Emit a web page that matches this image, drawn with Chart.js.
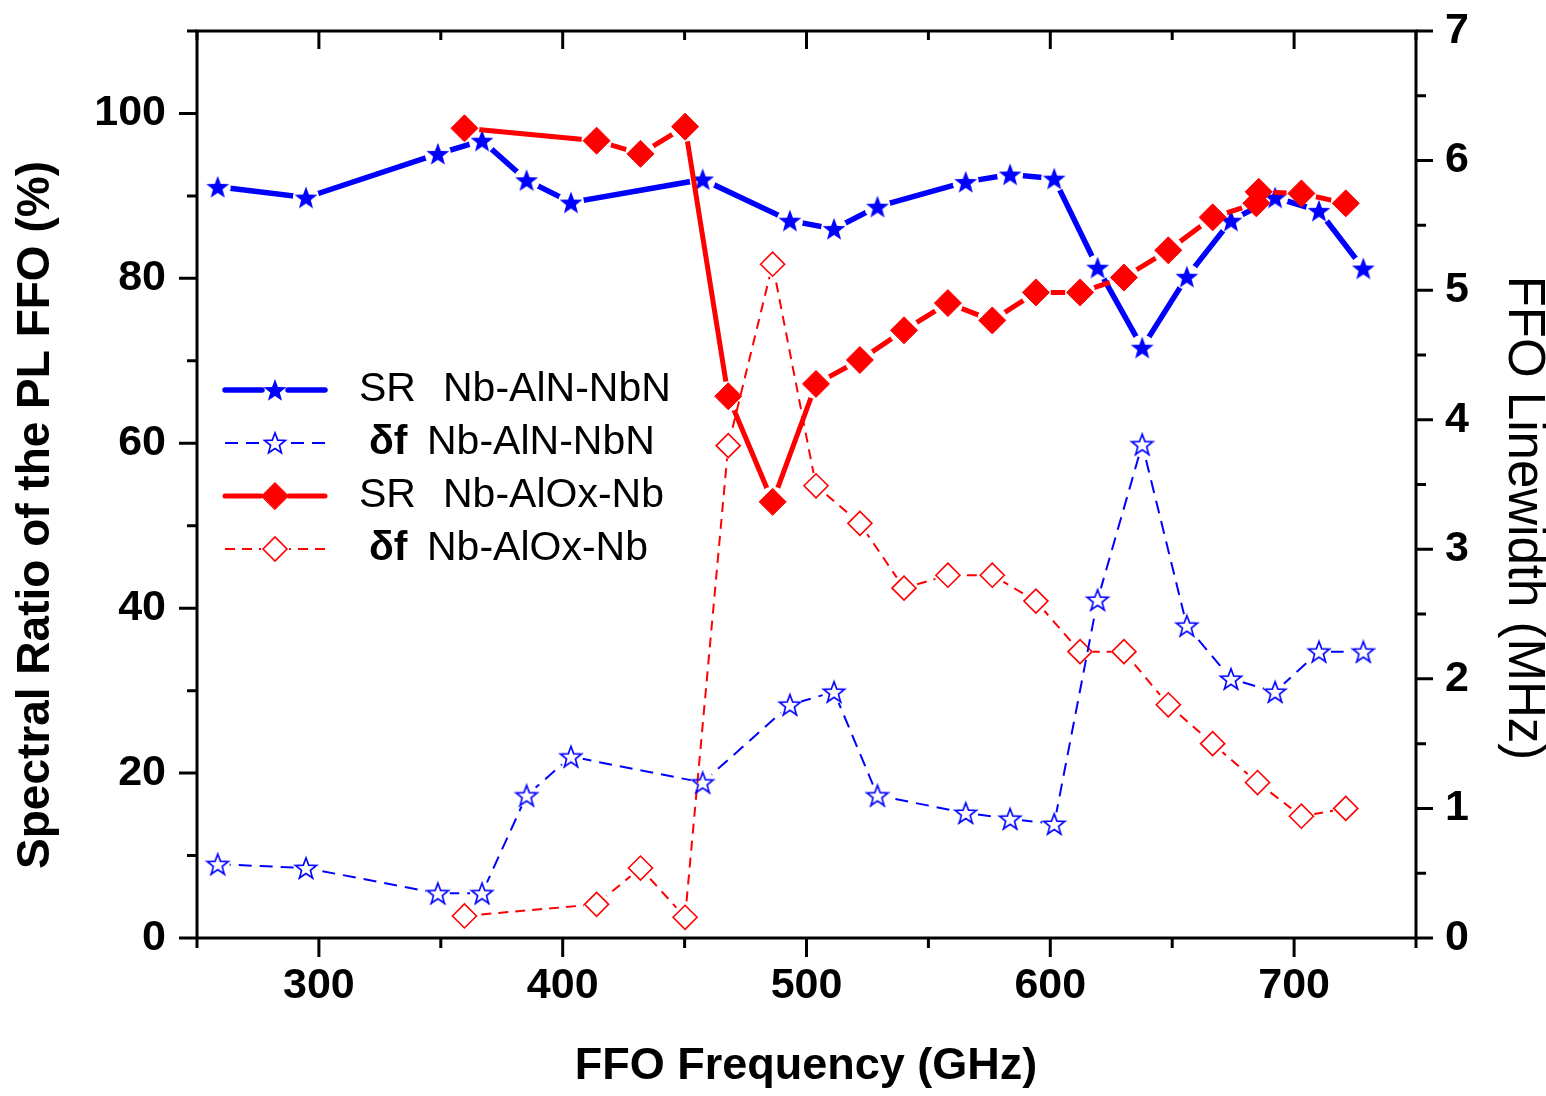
<!DOCTYPE html>
<html><head><meta charset="utf-8">
<script src="https://cdn.jsdelivr.net/npm/chart.js@4/dist/chart.umd.min.js"></script>
<style>html,body{margin:0;padding:0;background:#fff}canvas{display:block}</style>
</head><body>
<canvas id="c" width="1546" height="1096"></canvas>
<script>
// ---------- data ----------
const freqAlN = [258.5, 294.7, 348.8, 366.9, 385.2, 403.4, 457.4, 493.2, 511.3, 529.1, 565.3, 583.5, 601.6, 619.4, 637.7, 656.0, 674.1, 692.2, 710.2, 728.4];
const srAlN   = [91.1, 89.8, 95.1, 96.7, 91.9, 89.2, 92.0, 87.0, 86.0, 88.7, 91.7, 92.6, 92.1, 81.3, 71.6, 80.2, 87.0, 89.8, 88.2, 81.2];
const dfAlN   = [0.57, 0.54, 0.345, 0.345, 1.10, 1.40, 1.20, 1.80, 1.90, 1.10, 0.965, 0.92, 0.88, 2.61, 3.81, 2.41, 2.00, 1.90, 2.21, 2.21];
const freqAlOxSR = [359.7, 413.9, 431.9, 450.2, 467.9, 486.1, 503.9, 521.9, 540.0, 558.0, 576.2, 594.1, 612.2, 630.2, 648.4, 666.6, 684.5, 685.5, 703.0, 721.2];
const srAlOx     = [98.2, 96.7, 95.1, 98.4, 65.7, 52.9, 67.2, 70.1, 73.7, 77.0, 74.9, 78.3, 78.3, 80.1, 83.4, 87.4, 89.1, 90.5, 90.3, 89.1];
const freqAlOxDf = [359.7, 413.9, 431.9, 450.2, 467.9, 486.1, 503.9, 521.9, 540.0, 558.0, 576.2, 594.1, 612.2, 630.2, 648.4, 666.6, 685.0, 703.0, 721.2];
const dfAlOx     = [0.17, 0.26, 0.54, 0.16, 3.80, 5.20, 3.49, 3.20, 2.70, 2.80, 2.80, 2.60, 2.21, 2.21, 1.80, 1.50, 1.20, 0.94, 1.00];

const xTickLabels = [300, 400, 500, 600, 700];
const yLeftTickLabels = [0, 20, 40, 60, 80, 100];
const yRightTickLabels = [0, 1, 2, 3, 4, 5, 6, 7];

const legendPrefix = ['SR', 'δf', 'SR', 'δf'];
const legendNames = ['Nb-AlN-NbN', 'Nb-AlN-NbN', 'Nb-AlOx-Nb', 'Nb-AlOx-Nb'];

const xTitle = 'FFO Frequency (GHz)';
const yTitle = 'Spectral Ratio of the PL FFO (%)';
const y2Title = 'FFO Linewidth (MHz)';

// ---------- marker images ----------
function starCanvas(R, fill, stroke, lw) {
  const s = Math.ceil(2 * R + lw + 4);
  const c = document.createElement('canvas');
  c.width = s; c.height = s;
  const g = c.getContext('2d');
  const cx = s / 2, cy = s / 2 + R * 0.08;
  g.beginPath();
  for (let i = 0; i < 10; i++) {
    const r = i % 2 ? R * 0.42 : R;
    const a = -Math.PI / 2 + i * Math.PI / 5;
    g.lineTo(cx + r * Math.cos(a), cy + r * Math.sin(a));
  }
  g.closePath();
  if (fill) { g.fillStyle = fill; g.fill(); }
  if (stroke) { g.strokeStyle = stroke; g.lineWidth = lw; g.lineJoin = 'miter'; g.stroke(); }
  return c;
}
const BLUE = '#0000ff', RED = '#ff0000';
const starFilled = starCanvas(12, BLUE, null, 0);
const starOpen = starCanvas(11, null, BLUE, 1.6);

const pts = (xs, ys) => xs.map((x, i) => ({ x: x, y: ys[i] }));

// ---------- plugins ----------
const gapPlugin = {
  id: 'gaps',
  beforeDatasetDraw(chart, args) {
    const ds = chart.data.datasets[args.index];
    if (!ds.gap) return;
    const ctx = chart.ctx, g = ds.gap;
    ctx.save();
    ctx.beginPath();
    ctx.rect(0, 0, chart.width, chart.height);
    args.meta.data.forEach(p => { ctx.moveTo(p.x + g, p.y); ctx.arc(p.x, p.y, g, 0, Math.PI * 2); });
    ctx.clip('evenodd');
  },
  afterDatasetDraw(chart, args) {
    const ds = chart.data.datasets[args.index];
    if (!ds.gap) return;
    chart.ctx.restore();
    args.meta.data.forEach(p => p.draw(chart.ctx, chart.chartArea));
  }
};

const framePlugin = {
  id: 'frame',
  afterDraw(chart) {
    const ctx = chart.ctx, a = chart.chartArea, s = chart.scales;
    ctx.save();
    ctx.strokeStyle = '#000';
    ctx.lineWidth = 3;
    ctx.lineCap = 'butt';
    ctx.lineJoin = 'miter';
    ctx.strokeRect(a.left, a.top, a.right - a.left, a.bottom - a.top);
    ctx.beginPath();
    for (let v = 250; v <= 750; v += 50) {
      const px = s.x.getPixelForValue(v);
      const major = v % 100 === 0;
      ctx.moveTo(px, a.bottom); ctx.lineTo(px, a.bottom + (major ? 19 : 10));
      ctx.moveTo(px, a.top); ctx.lineTo(px, a.top + (major ? 18 : 9));
    }
    for (let v = 0; v <= 110; v += 10) {
      const py = s.y.getPixelForValue(v);
      ctx.moveTo(a.left, py); ctx.lineTo(a.left - (v % 20 === 0 ? 18 : 10), py);
    }
    for (let v = 0; v <= 7; v += 0.5) {
      const py = s.y2.getPixelForValue(v);
      ctx.moveTo(a.right, py); ctx.lineTo(a.right + (Number.isInteger(v) ? 17 : 10), py);
    }
    ctx.stroke();

    // titles
    ctx.fillStyle = '#000';
    ctx.textAlign = 'center';
    ctx.textBaseline = 'middle';
    ctx.font = 'bold 45px "Liberation Sans", Arial, sans-serif';
    ctx.fillText(xTitle, 806, 1067);
    ctx.save();
    ctx.translate(36, 515); ctx.rotate(-Math.PI / 2);
    ctx.font = 'bold 46px "Liberation Sans", Arial, sans-serif';
    ctx.fillText(yTitle, 0, 0);
    ctx.restore();
    ctx.save();
    ctx.translate(1523, 518); ctx.rotate(Math.PI / 2);
    ctx.font = '51px "Liberation Sans", Arial, sans-serif';
    ctx.fillText(y2Title, 0, 0);
    ctx.restore();

    // legend
    const legendOrder = [1, 2, 0, 3]; // dataset indices in legend row order
    const rowY = [390, 443, 496, 549];
    const x0 = 225, x1 = 325, xm = 275;
    legendOrder.forEach((di, r) => {
      const ds = chart.data.datasets[di];
      const y = rowY[r];
      const gap = ds.legendGap;
      ctx.save();
      ctx.strokeStyle = ds.borderColor;
      ctx.lineWidth = ds.borderWidth;
      ctx.lineCap = ds.borderDash ? 'butt' : 'round';
      ctx.setLineDash(ds.borderDash || []);
      ctx.beginPath();
      ctx.moveTo(x0, y); ctx.lineTo(xm - gap, y);
      ctx.stroke();
      ctx.beginPath();
      ctx.moveTo(x1, y); ctx.lineTo(xm + gap, y);
      ctx.stroke();
      ctx.setLineDash([]);
      if (ds.pointStyle instanceof HTMLCanvasElement) {
        ctx.drawImage(ds.pointStyle, xm - ds.pointStyle.width / 2, y - ds.pointStyle.height / 2);
      } else {
        const rr = ds.pointRadius;
        ctx.beginPath();
        ctx.moveTo(xm - rr, y); ctx.lineTo(xm, y - rr); ctx.lineTo(xm + rr, y); ctx.lineTo(xm, y + rr); ctx.closePath();
        ctx.fillStyle = ds.pointBackgroundColor;
        ctx.fill();
        ctx.strokeStyle = ds.pointBorderColor;
        ctx.lineWidth = ds.pointBorderWidth;
        ctx.stroke();
      }
      ctx.restore();
      ctx.fillStyle = '#000';
      ctx.textAlign = 'left';
      ctx.textBaseline = 'middle';
      if (legendPrefix[r] === 'SR') {
        ctx.font = '41px "Liberation Sans", Arial, sans-serif';
        ctx.fillText(legendPrefix[r], 359, y);
        ctx.fillText(legendNames[r], 443, y);
      } else {
        ctx.font = 'bold 41px "Liberation Sans", Arial, sans-serif';
        ctx.fillText(legendPrefix[r], 369, y);
        ctx.font = '41px "Liberation Sans", Arial, sans-serif';
        ctx.fillText(legendNames[r], 427, y);
      }
    });
    ctx.restore();
  }
};

const tickFont = { family: '"Liberation Sans", Arial, sans-serif', size: 43, weight: 'bold' };
const noPad = s => { s.paddingTop = 0; s.paddingBottom = 0; s.paddingLeft = 0; s.paddingRight = 0; };

new Chart(document.getElementById('c'), {
  type: 'line',
  data: {
    datasets: [
      { // 0: SR AlOx
        label: 'SR Nb-AlOx-Nb', data: pts(freqAlOxSR, srAlOx), yAxisID: 'y', order: 0,
        borderColor: RED, borderWidth: 5, tension: 0, gap: 15, legendGap: 14,
        pointStyle: 'rectRot', pointRadius: 13.5, pointBackgroundColor: RED, pointBorderColor: RED, pointBorderWidth: 1
      },
      { // 1: SR AlN
        label: 'SR Nb-AlN-NbN', data: pts(freqAlN, srAlN), yAxisID: 'y', order: 1,
        borderColor: BLUE, borderWidth: 5.5, tension: 0, gap: 13, legendGap: 13,
        pointStyle: starFilled, pointRadius: 12, pointBackgroundColor: BLUE, pointBorderColor: BLUE, pointBorderWidth: 0
      },
      { // 2: df AlN
        label: 'δf Nb-AlN-NbN', data: pts(freqAlN, dfAlN), yAxisID: 'y2', order: 2,
        borderColor: BLUE, borderWidth: 2, borderDash: [13, 8], tension: 0, gap: 12, legendGap: 14,
        pointStyle: starOpen, pointRadius: 11, pointBackgroundColor: 'rgba(0,0,0,0)', pointBorderColor: BLUE, pointBorderWidth: 1.6
      },
      { // 3: df AlOx
        label: 'δf Nb-AlOx-Nb', data: pts(freqAlOxDf, dfAlOx), yAxisID: 'y2', order: 3,
        borderColor: RED, borderWidth: 2, borderDash: [10, 7], tension: 0, gap: 13, legendGap: 14,
        pointStyle: 'rectRot', pointRadius: 12, pointBackgroundColor: 'rgba(0,0,0,0)', pointBorderColor: RED, pointBorderWidth: 1.6
      }
    ]
  },
  options: {
    responsive: false,
    animation: false,
    devicePixelRatio: 1,
    events: [],
    layout: { padding: 0 },
    plugins: { legend: { display: false }, tooltip: { enabled: false }, title: { display: false } },
    scales: {
      x: {
        type: 'linear', position: 'bottom', min: 250, max: 750,
        grid: { display: false, drawTicks: false }, border: { display: false },
        ticks: { stepSize: 50, autoSkip: false, maxRotation: 0, padding: 22, color: '#000', font: tickFont,
          callback: v => xTickLabels.includes(v) ? String(v) : '' },
        afterFit: s => { s.height = 158; noPad(s); }
      },
      x2: {
        type: 'linear', position: 'top', min: 250, max: 750,
        grid: { display: false, drawTicks: false }, border: { display: false },
        ticks: { display: false },
        afterFit: s => { s.height = 31; noPad(s); }
      },
      y: {
        type: 'linear', position: 'left', min: 0, max: 110,
        grid: { display: false, drawTicks: false }, border: { display: false },
        ticks: { stepSize: 10, autoSkip: false, padding: 31, color: '#000', font: tickFont,
          callback: v => yLeftTickLabels.includes(v) ? String(v) : '' },
        afterFit: s => { s.width = 197; noPad(s); }
      },
      y2: {
        type: 'linear', position: 'right', min: 0, max: 7,
        grid: { display: false, drawTicks: false }, border: { display: false },
        ticks: { stepSize: 0.5, autoSkip: false, padding: 29, color: '#000', font: tickFont,
          callback: v => yRightTickLabels.includes(v) ? String(v) : '' },
        afterFit: s => { s.width = 130; noPad(s); }
      }
    }
  },
  plugins: [gapPlugin, framePlugin]
});
</script>
</body></html>
